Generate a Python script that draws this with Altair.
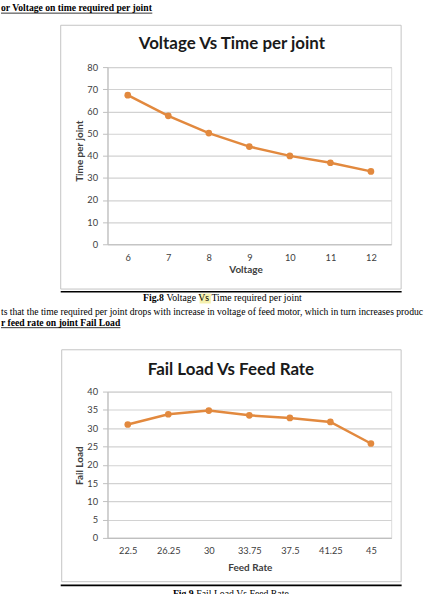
import altair as alt
import pandas as pd

# ---------------- data ----------------
voltage = ["6", "7", "8", "9", "10", "11", "12"]
time_per_joint = [67.3, 58.0, 50.2, 44.1, 39.9, 36.8, 32.9]
y1_ticks = [0, 10, 20, 30, 40, 50, 60, 70, 80]

feed_rate = ["22.5", "26.25", "30", "33.75", "37.5", "41.25", "45"]
fail_load = [31.0, 33.8, 34.8, 33.5, 32.8, 31.7, 25.8]
y2_ticks = [0, 5, 10, 15, 20, 25, 30, 35, 40]

title1 = "Voltage Vs Time per  joint"
title2 = "Fail Load Vs Feed Rate"
heading1 = "or Voltage on time required per joint"
caption1_fig = "Fig.8"
caption1_text = "Voltage Vs Time required per joint"
paragraph = ("ts that the time required per joint drops with increase in voltage of "
             "feed motor, which in turn increases produc")
heading2 = "r feed rate on joint Fail Load"
caption2_fig = "Fig.9"
caption2_text = "Fail Load Vs Feed Rate"

# ---------------- style ----------------
ORANGE = "#E2893E"
CHART_FONT = "Lato"
DOC_FONT = "Liberation Serif"
LABEL_COLOR = "#404040"
GRID = "#D2D2D2"
AXIS_LINE = "#BFBFBF"

OX = 107      # page x of plot-area left edge
OY1 = 65      # page y of plot 1 top
OY2 = 391     # page y of plot 2 top
W = 285
H1 = 178
H2 = 147

one = pd.DataFrame({"k": [0]})


def box(x1, y1, x2, y2, oy, **kw):
    return alt.Chart(one).mark_rect(**kw).encode(
        x=alt.value(x1 - OX), x2=alt.value(x2 - OX),
        y=alt.value(y1 - oy), y2=alt.value(y2 - oy))


def hline(x1, x2, y, oy, color, width):
    return alt.Chart(one).mark_rule(color=color, strokeWidth=width).encode(
        x=alt.value(x1 - OX), x2=alt.value(x2 - OX), y=alt.value(y - oy))


def txt(s, x, y, oy, font, size, weight="normal", color="black", align="left", limit=0):
    kw = dict(text=s, font=font, fontSize=size, fontWeight=weight, color=color,
              align=align, baseline="alphabetic")
    if limit:
        kw["limit"] = limit
        kw["ellipsis"] = ""
    return alt.Chart(one).mark_text(**kw).encode(x=alt.value(x - OX), y=alt.value(y - oy))


def y_axis(values, title, title_y):
    return alt.Axis(values=values, title=title, grid=True, gridColor=GRID, gridWidth=1.2,
                    domainColor=AXIS_LINE, domainWidth=1.2, tickColor=AXIS_LINE, tickSize=5,
                    labelFont=CHART_FONT, labelFontSize=9.3, labelColor=LABEL_COLOR, labelPadding=5,
                    titleFont=CHART_FONT, titleFontSize=10, titleFontWeight="bold",
                    titleColor=LABEL_COLOR, titleAngle=270, titleX=79 - OX, titleY=title_y,
                    titleAlign="center", titleBaseline="middle")


def x_axis(title, title_x, title_y):
    return alt.Axis(title=title, labelAngle=0, ticks=False, tickSize=0, grid=False,
                    domainColor=AXIS_LINE, domainWidth=1.2,
                    labelFont=CHART_FONT, labelFontSize=9.3, labelColor=LABEL_COLOR, labelPadding=9,
                    titleFont=CHART_FONT, titleFontSize=10, titleFontWeight="bold",
                    titleColor=LABEL_COLOR, titleX=title_x, titleY=title_y,
                    titleAlign="center", titleBaseline="alphabetic")


# ---------------- chart 1 ----------------
df1 = pd.DataFrame({"Voltage": voltage, "Time per joint": time_per_joint})
base1 = alt.Chart(df1).encode(
    x=alt.X("Voltage:O", sort=voltage, axis=x_axis("Voltage", 245.7 - OX, 271 - (OY1 + H1))),
    y=alt.Y("Time per joint:Q", scale=alt.Scale(domain=[0, 80]),
            axis=y_axis(y1_ticks, "Time per joint", 84)),
)
line1 = base1.mark_line(color=ORANGE, strokeWidth=2.5)
pts1 = base1.mark_circle(color=ORANGE, size=45, opacity=1)

chart1 = alt.layer(
    box(0, 0, 430, 594, OY1, color="white", opacity=0),
    box(60, 23, 402, 288, OY1, filled=False, color="#C4C4C4", strokeWidth=1),
    hline(60, 402.5, 290.7, OY1, "black", 1.6),
    line1, pts1,
    txt(title1, 232, 47.3, OY1, CHART_FONT, 17, "bold", "#1a1a1a", "center"),
    txt(heading1, 0, 9, OY1, DOC_FONT, 9.7, "bold"),
    hline(0, 152, 10.8, OY1, "black", 0.8),
    box(199.5, 292.5, 210.8, 302.5, OY1, color="#F3EC9A", opacity=0.8),
    txt(caption1_fig, 142.7, 300.5, OY1, DOC_FONT, 9.8, "bold"),
    txt(caption1_text, 166.2, 300.5, OY1, DOC_FONT, 9.8),
    txt(paragraph, 0, 314, OY1, DOC_FONT, 9.7, limit=430),
    txt(heading2, 0, 325, OY1, DOC_FONT, 9.7, "bold"),
    hline(0, 120, 326.8, OY1, "black", 0.8),
).properties(width=W, height=H1)

# ---------------- chart 2 ----------------
df2 = pd.DataFrame({"Feed Rate": feed_rate, "Fail Load": fail_load})
base2 = alt.Chart(df2).encode(
    x=alt.X("Feed Rate:O", sort=feed_rate, axis=x_axis("Feed Rate", 250 - OX, 570.7 - (OY2 + H2))),
    y=alt.Y("Fail Load:Q", scale=alt.Scale(domain=[0, 40]),
            axis=y_axis(y2_ticks, "Fail Load", 74)),
)
line2 = base2.mark_line(color=ORANGE, strokeWidth=2.5)
pts2 = base2.mark_circle(color=ORANGE, size=45, opacity=1)

chart2 = alt.layer(
    box(61, 349, 402, 582, OY2, filled=False, color="#C4C4C4", strokeWidth=1),
    hline(60, 402.5, 585.7, OY2, "black", 1.6),
    line2, pts2,
    txt(title2, 231, 374.3, OY2, CHART_FONT, 17, "bold", "#1a1a1a", "center"),
    txt(caption2_fig, 172.7, 597, OY2, DOC_FONT, 9.8, "bold"),
    txt(caption2_text, 196.2, 597, OY2, DOC_FONT, 9.8),
).properties(width=W, height=H2)

chart = alt.vconcat(chart1, chart2, spacing=OY2 - (OY1 + H1), bounds="flush").properties(
    padding=0
).configure_view(stroke=None).configure(background="white")

chart.save("out.html", embed_options={"renderer": "svg", "actions": False})
